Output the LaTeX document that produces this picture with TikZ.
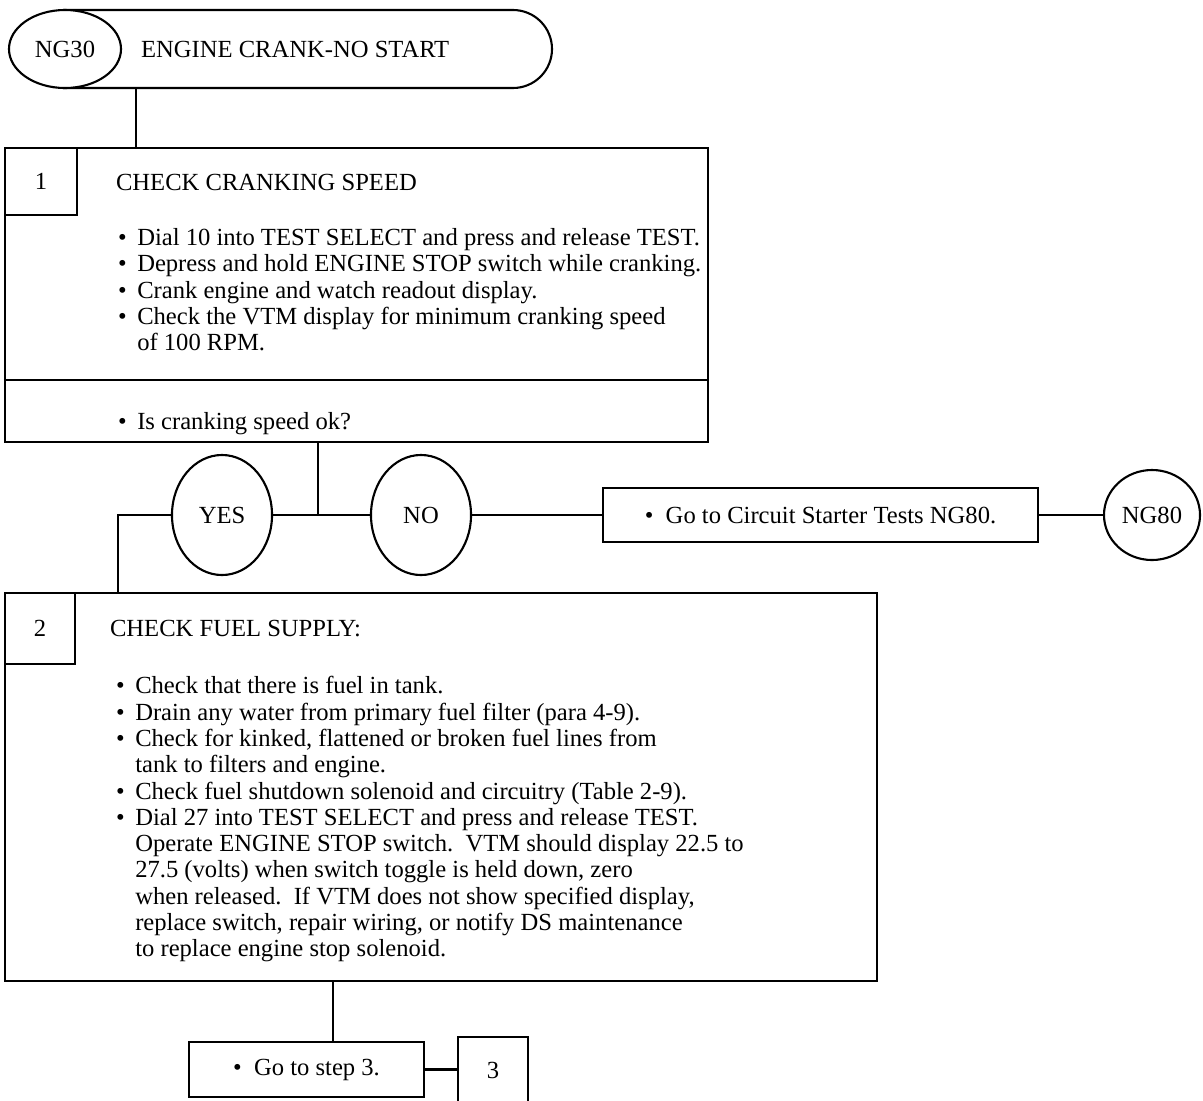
\documentclass[tikz,border=0pt]{standalone}
\usepackage{fontspec}
\setmainfont{Liberation Serif}
\usetikzlibrary{shapes.geometric,shapes.misc,fit,positioning}

\newcommand{\puce}{\makebox[0.48cm][l]{\textbullet}}
\newcommand{\suite}{\hspace*{0.48cm}}

\begin{document}
\begin{tikzpicture}[x=0.025cm, y=-0.025cm, line width=1.5pt,
  font=\fontsize{17.5}{18.7}\selectfont,
  boite/.style={draw, inner sep=0pt},
  ovale/.style={draw, ellipse, inner sep=0pt},
  liste/.style={anchor=north west, inner sep=0pt, align=left}]

\useasboundingbox (0,0) rectangle (1203,1100);

% en-tete NG30
\node[boite, rounded rectangle, rounded rectangle left arc=none, fit={(64,10) (513,88)}] (entete) {};
\node[ovale, fill=white, minimum width=2.8cm, minimum height=1.95cm] (ng30) at (65,49) {NG30};
\node[anchor=west, inner sep=0pt] (titre) at (140,49) {ENGINE CRANK-NO START};

% etape 1
\node[boite, fit={(5,148) (708,442)}] (etape1) {};
\node[boite, minimum width=1.8cm, minimum height=1.675cm] (num1) at (41,181.5) {1};
\node[anchor=west, inner sep=0pt] (titre1) at (115,182) {CHECK CRANKING SPEED};
\node[liste] (liste1) at (117,227.5) {\puce Dial 10 into TEST SELECT and press and release TEST.\\
  \puce Depress and hold ENGINE STOP switch while cranking.\\
  \puce Crank engine and watch readout display.\\
  \puce Check the VTM display for minimum cranking speed\\
  \suite of 100 RPM.};
\coordinate (sep1) at (0,380);
\draw[line width=0.8pt] (etape1.west |- sep1) -- (etape1.east |- sep1);
\node[liste] (question1) at (117,411.5) {\puce Is cranking speed ok?};

% reponses
\node[ovale, minimum width=2.5cm, minimum height=3cm] (oui) at (222,515) {YES};
\node[ovale, minimum width=2.5cm, minimum height=3cm] (non) at (421,515) {NO};
\node[boite, minimum width=10.875cm, minimum height=1.35cm] (circuit) at (820.5,515) {\textbullet~~Go to Circuit Starter Tests NG80.};
\node[ovale, minimum width=2.4cm, minimum height=2.25cm] (ng80) at (1152,515) {NG80};

% etape 2
\node[boite, fit={(5,593) (877,981)}] (etape2) {};
\node[boite, minimum width=1.75cm, minimum height=1.775cm] (num2) at (40,628.5) {2};
\node[anchor=west, inner sep=0pt] (titre2) at (109,629) {CHECK FUEL SUPPLY:};
\node[liste] (liste2) at (115,675.5) {\puce Check that there is fuel in tank.\\
  \puce Drain any water from primary fuel filter (para 4-9).\\
  \puce Check for kinked, flattened or broken fuel lines from\\
  \suite tank to filters and engine.\\
  \puce Check fuel shutdown solenoid and circuitry (Table 2-9).\\
  \puce Dial 27 into TEST SELECT and press and release TEST.\\
  \suite Operate ENGINE STOP switch.\ \ VTM should display 22.5 to\\
  \suite 27.5 (volts) when switch toggle is held down, zero\\
  \suite when released.\ \ If VTM does not show specified display,\\
  \suite replace switch, repair wiring, or notify DS maintenance\\
  \suite to replace engine stop solenoid.};

% suite
\node[boite, minimum width=5.875cm, minimum height=1.375cm] (allera3) at (306.5,1069.5) {\textbullet~~Go to step 3.};
\node[boite, minimum width=1.75cm, minimum height=1.65cm] (num3) at (493,1070) {3};

% liaisons
\coordinate (x1) at (136,0);
\draw (x1 |- entete.south) -- (x1 |- etape1.north);
\coordinate (jonction) at (318,515);
\draw (etape1.south -| jonction) -- (jonction);
\draw (oui) -- (non);
\draw (non) -- (circuit);
\draw (circuit) -- (ng80);
\coordinate (coude) at (118,515);
\draw (oui.west) -- (coude) -- (coude |- etape2.north);
\coordinate (x2) at (333,0);
\draw (x2 |- etape2.south) -- (x2 |- allera3.north);
\draw (allera3.east) -- (allera3.east -| num3.west);

\end{tikzpicture}
\end{document}
